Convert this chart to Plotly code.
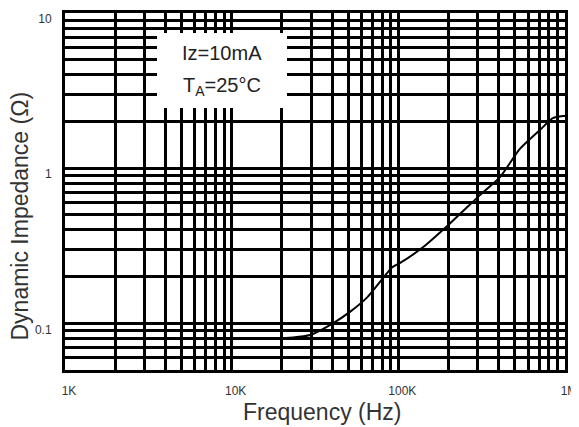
import plotly.graph_objects as go
import math

# Data
freq_hz = [17000, 23300, 29500, 40500, 51000, 65000, 92000, 102000, 141000,
           204000, 309000, 407000, 536000, 707000, 845000, 970000, 1000000]
impedance_ohm = [0.080, 0.081, 0.084, 0.100, 0.118, 0.147, 0.23, 0.244, 0.31,
                 0.44, 0.67, 0.875, 1.33, 1.76, 2.10, 2.17, 2.17]

x_tick_vals = [1e3, 1e4, 1e5, 1e6]
x_tick_text = ["1K", "10K", "100K", "1M"]
y_tick_vals = [0.1, 1, 10]
y_tick_text = ["0.1", "1", "10"]

x_minor = [m * 10 ** e for e in range(3, 6) for m in range(2, 10)]
y_minor = [m * 10 ** e for e in range(-2, 1) for m in range(2, 10) if m * 10 ** e >= 0.05]

fig = go.Figure()
fig.add_trace(go.Scatter(
    x=freq_hz, y=impedance_ohm, mode="lines",
    line=dict(color="black", width=2, shape="spline", smoothing=0.6),
    hoverinfo="skip", showlegend=False,
))

axis_common = dict(
    showline=True, linecolor="black", linewidth=3, mirror=True,
    showgrid=True, gridcolor="black", gridwidth=3,
    ticks="", zeroline=False, automargin=False, ticklabeloverflow="allow",
    tickfont=dict(family="Liberation Sans, Arial, sans-serif", size=12, color="#333333"),
)

fig.update_xaxes(
    type="log", range=[3, 6],
    tickmode="array", tickvals=x_tick_vals, ticktext=x_tick_text,
    minor=dict(tickmode="array", tickvals=x_minor, showgrid=True,
               gridcolor="black", gridwidth=2.5, ticks=""),
    ticklabelshift=4, ticklabelstandoff=8,
    **axis_common,
)
fig.update_yaxes(
    type="log", range=[math.log10(0.05), 1],
    tickmode="array", tickvals=y_tick_vals, ticktext=y_tick_text,
    minor=dict(tickmode="array", tickvals=y_minor, showgrid=True,
               gridcolor="black", gridwidth=2.5, ticks=""),
    ticklabelshift=6, ticklabelstandoff=8,
    **axis_common,
)

# White label box
fig.add_shape(type="rect", xref="paper", yref="paper",
              x0=0.184, x1=0.444, y0=0.734, y1=0.944,
              fillcolor="white", line=dict(width=0), layer="above")

text_font = dict(family="Liberation Sans, Arial, sans-serif", size=20, color="#222222")
fig.add_annotation(xref="paper", yref="paper", x=0.314, y=0.888,
                   text="Iz=10mA", showarrow=False, font=text_font,
                   xanchor="center", yanchor="middle")
fig.add_annotation(xref="paper", yref="paper", x=0.314, y=0.793,
                   text="T<sub>A</sub>=25°C", showarrow=False, font=text_font,
                   xanchor="center", yanchor="middle")

title_font = dict(family="Liberation Sans, Arial, sans-serif", size=23, color="#333333")
fig.add_annotation(xref="paper", yref="paper", x=0.514, y=-0.118,
                   text="Frequency (Hz)", showarrow=False, font=title_font,
                   yanchor="middle", xanchor="center")
fig.add_annotation(xref="paper", yref="paper", x=-0.09, y=0.43,
                   text="Dynamic Impedance (Ω)", showarrow=False, font=title_font,
                   textangle=-90, yanchor="middle", xanchor="center")

# The page body adds an 8px offset, so the figure is sized and margined to compensate
fig.update_layout(
    width=579, height=427,
    margin=dict(l=57, r=22, t=5, b=65, autoexpand=False),
    paper_bgcolor="white", plot_bgcolor="white",
    showlegend=False,
)

fig.write_html("out.html")
